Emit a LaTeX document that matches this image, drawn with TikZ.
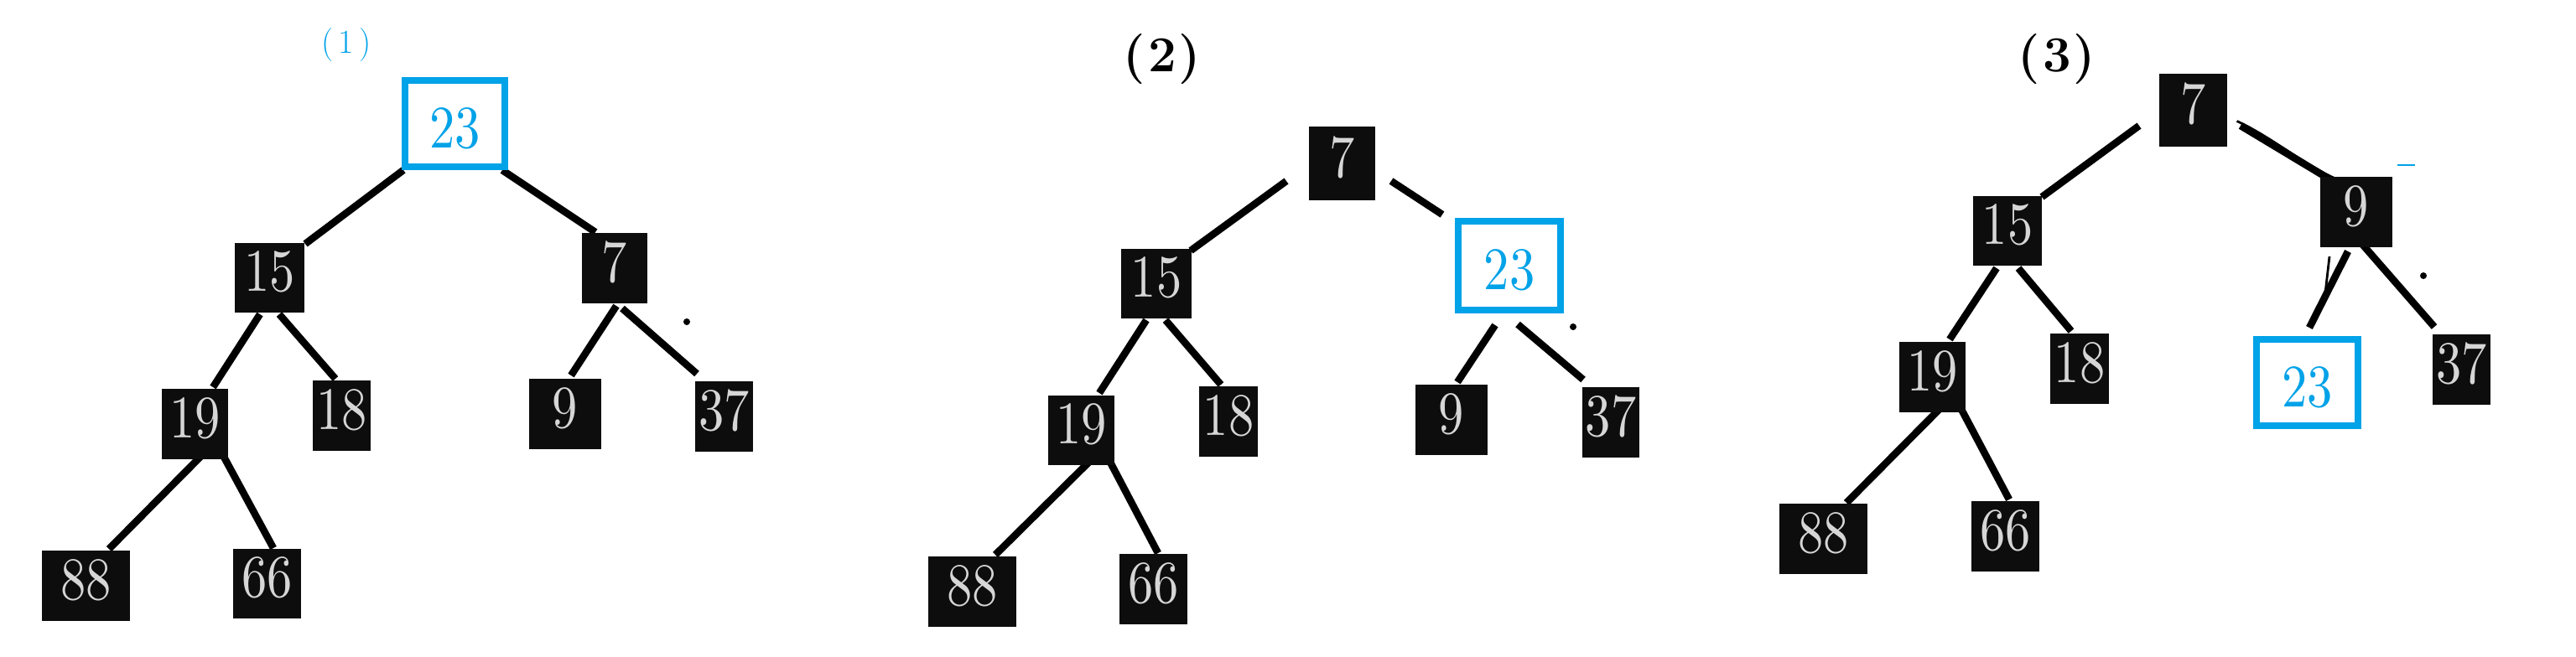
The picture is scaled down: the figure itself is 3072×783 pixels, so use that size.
\documentclass[tikz,border=0pt]{standalone}
\usepackage{graphicx}
\usetikzlibrary{calc,backgrounds}
\definecolor{boxfill}{RGB}{13,13,13}
\definecolor{numgray}{RGB}{214,214,214}
\definecolor{hlblue}{RGB}{0,162,232}
\font\numf=cmr10 at 36pt
\newcommand\nq[1]{\scalebox{0.84}[1]{#1}}
\begin{document}
\begin{tikzpicture}[x=0.5pt,y=-0.5pt,
  bk/.style={fill=boxfill,text=numgray,inner sep=0pt,font=\numf,text depth=7pt},
  hl/.style={draw=hlblue,line width=4pt,fill=white,text=hlblue,inner sep=0pt,font=\numf,text height=28.5pt,text depth=0pt},
  edge/.style={line width=4.3pt,black},
  thin edge/.style={line width=1.4pt,black},
  speck/.style={fill=black}]
\useasboundingbox (0,0) rectangle (3072,783);

% ---------- panel (1) ----------
\node[text=hlblue,font=\fontsize{20}{20}\selectfont] (l1) at (413,54) {(\hspace{3pt}1\hspace{3pt})};
\node[hl,minimum width=59.5pt,minimum height=51.5pt] (a23) at (542.5,147.5) {\nq{23}\hspace{5pt}};
\node[bk,minimum width=41.5pt,minimum height=41.5pt] (a15) at (321.5,331.5) {\nq{15}};
\node[bk,minimum width=39pt,minimum height=42pt] (a7) at (733,320) {\nq{7}\hspace{11.5pt}};
\node[bk,minimum width=39.5pt,minimum height=42pt] (a19) at (232.5,506) {\nq{19}\hspace{12.5pt}};
\node[bk,minimum width=34.5pt,minimum height=42pt] (a18) at (407.5,496) {\nq{18}};
\node[bk,minimum width=43pt,minimum height=42pt] (a9) at (674,494) {\nq{9}};
\node[bk,minimum width=34.5pt,minimum height=42pt] (a37) at (863.5,497) {\nq{37}};
\node[bk,minimum width=52.5pt,minimum height=42pt] (a88) at (102.5,699) {\nq{88}};
\node[bk,minimum width=40.5pt,minimum height=41.5pt] (a66) at (318.5,696.5) {\nq{66}};

% ---------- panel (2) ----------
\node[font=\fontsize{30}{30}\selectfont\bfseries] (l2) at (1386,71) {(\hspace{1.5pt}2\hspace{1.5pt})};
\node[bk,minimum width=39.5pt,minimum height=44pt] (b7) at (1600.5,195) {\nq{7}\hspace{11.5pt}};
\node[hl,minimum width=61pt,minimum height=53pt] (b23) at (1800,317) {\nq{23}\hspace{5pt}};
\node[bk,minimum width=42pt,minimum height=41.5pt] (b15) at (1379,338.5) {\nq{15}};
\node[bk,minimum width=39.5pt,minimum height=41.5pt] (b19) at (1289.5,513.5) {\nq{19}\hspace{12.5pt}};
\node[bk,minimum width=35pt,minimum height=42pt] (b18) at (1465,503) {\nq{18}};
\node[bk,minimum width=43pt,minimum height=42pt] (b9) at (1731,501) {\nq{9}};
\node[bk,minimum width=34pt,minimum height=42pt] (b37) at (1921,504) {\nq{37}};
\node[bk,minimum width=52.5pt,minimum height=42pt] (b88) at (1159.5,706) {\nq{88}};
\node[bk,minimum width=40.5pt,minimum height=42pt] (b66) at (1375.5,703) {\nq{66}};

% ---------- panel (3) ----------
\node[font=\fontsize{30}{30}\selectfont\bfseries] (l3) at (2453,71) {(\hspace{1.5pt}3\hspace{1.5pt})};
\node[bk,minimum width=40.5pt,minimum height=43.5pt] (c7) at (2615.5,131.5) {\nq{7}\hspace{11.5pt}};
\node[bk,minimum width=41pt,minimum height=41.5pt] (c15) at (2394,275.5) {\nq{15}};
\node[bk,minimum width=43pt,minimum height=42pt] (c9) at (2810,253) {\nq{9}};
\node[bk,minimum width=39.5pt,minimum height=42pt] (c19) at (2304.5,450) {\nq{19}\hspace{12.5pt}};
\node[bk,minimum width=35pt,minimum height=42pt] (c18) at (2480,440) {\nq{18}};
\node[hl,minimum width=60.5pt,minimum height=51.5pt] (c23) at (2751.5,456.5) {\nq{23}\hspace{5pt}};
\node[bk,minimum width=34.5pt,minimum height=42pt] (c37) at (2935.5,441) {\nq{37}\hspace{4pt}};
\node[bk,minimum width=52.5pt,minimum height=42pt] (c88) at (2174.5,643) {\nq{88}};
\node[bk,minimum width=40.5pt,minimum height=42pt] (c66) at (2391.5,640) {\nq{66}};

\begin{scope}[on background layer]
  % panel 1
  \draw[edge] ($(a23)+(-61.5,55.5)$) -- ($(a15)+(42.5,-40.5)$);
  \draw[edge] ($(a23)+(56.5,55.5)$) -- ($(a7)+(-23,-43)$);
  \draw[edge] ($(a15)+(-11.5,43.5)$) -- ($(a19)+(21.5,-44)$);
  \draw[edge] ($(a15)+(11.5,43.5)$) -- ($(a18)+(-7.5,-44)$);
  \draw[edge] ($(a19)+(12.5,33)$) -- ($(a88)+(27.5,-44)$);
  \draw[edge] ($(a19)+(29.5,30)$) -- ($(a66)+(7.5,-42.5)$);
  \draw[edge] ($(a7)+(2,45)$) -- ($(a9)+(7,-46)$);
  \draw[edge] ($(a7)+(9,48)$) -- ($(a37)+(-32.5,-51)$);
  % panel 2
  \draw[edge] ($(b7)+(-66.5,21)$) -- ($(b15)+(41,-39.5)$);
  \draw[edge] ($(b7)+(58.5,21)$) -- ($(b23)+(-80,-61)$);
  \draw[edge] ($(b15)+(-12,43.5)$) -- ($(b19)+(21.5,-44.5)$);
  \draw[edge] ($(b15)+(11,43.5)$) -- ($(b18)+(-9,-44)$);
  \draw[edge] ($(b19)+(13.5,33.5)$) -- ($(b88)+(27.5,-44)$);
  \draw[edge] ($(b19)+(29.5,28.5)$) -- ($(b66)+(5.5,-43)$);
  \draw[edge] ($(b23)+(-17,71)$) -- ($(b9)+(7,-45)$);
  \draw[edge] ($(b23)+(10,70)$) -- ($(b37)+(-33,-51)$);
  % panel 3
  \draw[edge] ($(c7)+(-64.5,18.5)$) -- ($(c15)+(41,-40.5)$);
  \draw[edge] ($(c7)+(56.5,18.5)$) -- ($(c9)+(-20,-32)$);
  \draw[thin edge] ($(c7)+(52,13)$) .. controls ($(c7)+(90,30)$) and ($(c9)+(-60,-55)$) .. ($(c9)+(-25,-40)$);
  \draw[edge] ($(c15)+(-13,44.5)$) -- ($(c19)+(20.5,-45)$);
  \draw[edge] ($(c15)+(13,44.5)$) -- ($(c18)+(-10,-45)$);
  \draw[edge] ($(c19)+(12.5,34)$) -- ($(c88)+(27.5,-43)$);
  \draw[edge] ($(c19)+(29.5,29)$) -- ($(c66)+(4.5,-44)$);
  \draw[edge] ($(c9)+(-10,47)$) -- ($(c23)+(2.5,-65.5)$);
  \draw[thin edge] ($(c9)+(-32,53)$) -- ($(c9)+(-38,105)$);
  \draw[edge] ($(c9)+(5,36)$) -- ($(c37)+(-32.5,-51)$);
\end{scope}

% small specks
\fill[speck] (819,384) circle (2pt);
\fill[speck] (1876,390) circle (2pt);
\fill[speck] (2890,329) circle (2pt);
\draw[hlblue,line width=1pt] (2859,197) -- (2880,197);
\end{tikzpicture}
\end{document}
